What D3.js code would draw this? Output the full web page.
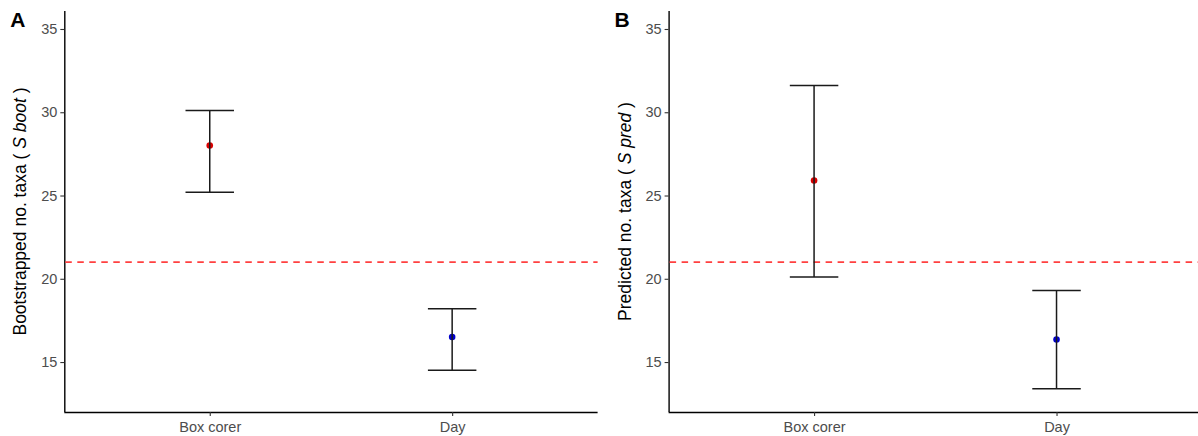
<!DOCTYPE html>
<html>
<head>
<meta charset="utf-8">
<script src="https://cdn.jsdelivr.net/npm/d3@7"></script>
<style>
  html, body { margin: 0; padding: 0; background: #fff; }
  svg { display: block; font-family: Arial, "Liberation Sans", sans-serif; }
</style>
</head>
<body>
<svg id="chart" width="1198" height="436"></svg>
<script>
// Sampling methods on the x axis
const categories = ["Box corer", "Day"];
const pointColors = ["#d80000", "#0000cc"];

// Panel A: bootstrapped number of taxa (mean and interval)
const bootMean  = [28.0, 16.5];
const bootLower = [25.2, 14.5];
const bootUpper = [30.1, 18.2];

// Panel B: predicted number of taxa (estimate and interval)
const predMean  = [25.9, 16.35];
const predLower = [20.1, 13.4];
const predUpper = [31.6, 19.3];

// Reference level shown as a dashed line in both panels
const referenceLevel = 21;

const yTicks = [15, 20, 25, 30, 35];
const yDomain = [12.0, 36.08];

const panels = [
  { tag: "A", left: 64.3, right: 597.6, titleX: 19.5, titleMain: "Bootstrapped no. taxa ( ", titleItalic: "S boot", titleEnd: " )",
    mean: bootMean, lower: bootLower, upper: bootUpper },
  { tag: "B", left: 668.6, right: 1202, titleX: 624.5, titleMain: "Predicted no. taxa ( ", titleItalic: "S pred", titleEnd: " )",
    mean: predMean, lower: predLower, upper: predUpper }
];

const plotTop = 11, plotBottom = 412;
const svg = d3.select("#chart");

panels.forEach(p => {
  const g = svg.append("g");

  // Discrete x positions with ggplot-style 0.6 expansion on each side
  const x = d3.scaleLinear()
    .domain([0.4, categories.length + 0.6])
    .range([p.left, p.right]);
  const y = d3.scaleLinear().domain(yDomain).range([plotBottom, plotTop]);

  // Y axis
  const yAxis = d3.axisLeft(y).tickValues(yTicks).tickSize(4).tickPadding(3).tickFormat(d3.format("d"));
  const ya = g.append("g").attr("transform", `translate(${p.left},0)`).call(yAxis);
  ya.select(".domain").attr("stroke", "#000").attr("stroke-width", 1.4).attr("d", `M0.5,${plotTop}V${plotBottom}`);
  ya.selectAll(".tick line").attr("stroke", "#333").attr("stroke-width", 1.1);
  ya.selectAll(".tick text").attr("fill", "#4d4d4d").style("font-size", "14.5px");

  // X axis
  const xAxis = d3.axisBottom(x)
    .tickValues(categories.map((c, i) => i + 1))
    .tickFormat((d) => categories[d - 1])
    .tickSize(4).tickPadding(5.5);
  const xa = g.append("g").attr("transform", `translate(0,${plotBottom})`).call(xAxis);
  xa.select(".domain").attr("stroke", "#000").attr("stroke-width", 1.4).attr("d", `M${p.left},0.5H${p.right}`);
  xa.selectAll(".tick line").attr("stroke", "#333").attr("stroke-width", 1.1);
  xa.selectAll(".tick text").attr("fill", "#4d4d4d").style("font-size", "14.5px");

  // Dashed reference line
  g.append("line")
    .attr("x1", p.left + 1).attr("x2", p.right)
    .attr("y1", y(referenceLevel)).attr("y2", y(referenceLevel))
    .attr("stroke", "#ff4040").attr("stroke-width", 1.6)
    .attr("stroke-dasharray", "6.5,5.5");

  // Points, then error bars over them
  categories.forEach((c, i) => {
    const cx = x(i + 1);
    g.append("circle")
      .attr("cx", cx).attr("cy", y(p.mean[i])).attr("r", 3.3)
      .attr("fill", pointColors[i]);
  });

  const capHalf = (x(1.1) - x(1));
  categories.forEach((c, i) => {
    const cx = x(i + 1);
    const bar = g.append("g").attr("stroke", "#1a1a1a").attr("stroke-width", 1.5).attr("fill", "none");
    bar.append("line").attr("x1", cx).attr("x2", cx).attr("y1", y(p.upper[i])).attr("y2", y(p.lower[i]));
    bar.append("line").attr("x1", cx - capHalf).attr("x2", cx + capHalf).attr("y1", y(p.upper[i])).attr("y2", y(p.upper[i]));
    bar.append("line").attr("x1", cx - capHalf).attr("x2", cx + capHalf).attr("y1", y(p.lower[i])).attr("y2", y(p.lower[i]));
  });

  // Y axis title with italic symbol
  const cy = (plotTop + plotBottom) / 2;
  const title = g.append("text")
    .attr("transform", `translate(${p.titleX},${cy}) rotate(-90)`)
    .attr("text-anchor", "middle")
    .attr("dy", "0.36em")
    .attr("fill", "#000")
    .style("font-size", "17.5px");
  title.append("tspan").text(p.titleMain);
  title.append("tspan").style("font-style", "italic").text(p.titleItalic);
  title.append("tspan").text(p.titleEnd);

  // Panel tag
  g.append("text")
    .attr("x", p.left - 54).attr("y", 27)
    .attr("fill", "#000")
    .style("font-size", "21px").style("font-weight", "bold")
    .text(p.tag);
});
</script>
</body>
</html>
